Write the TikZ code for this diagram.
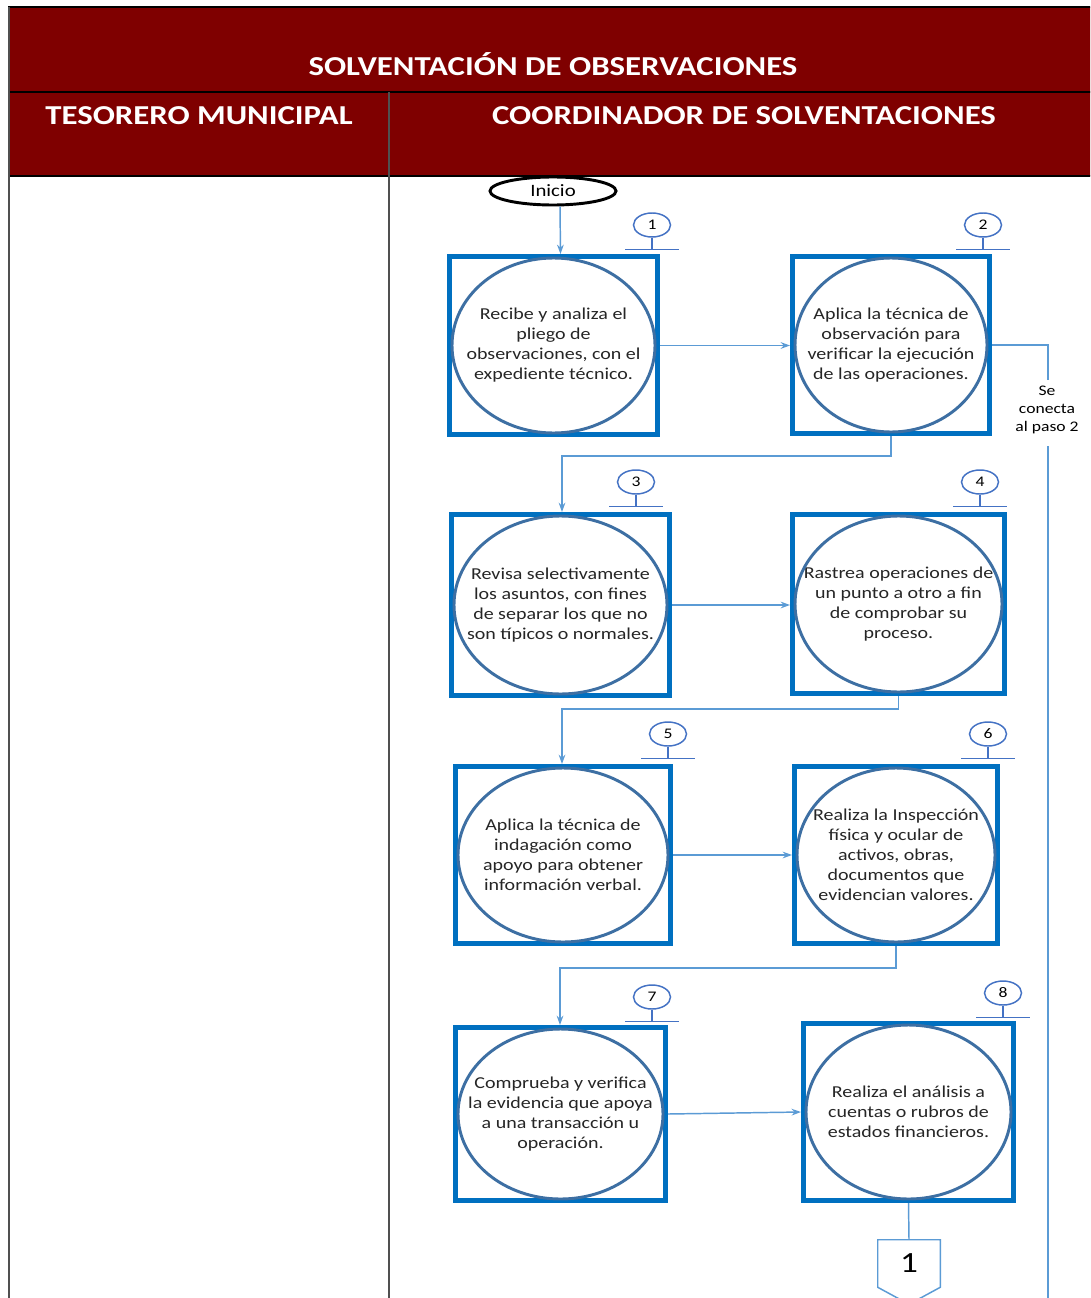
\documentclass[tikz,border=0pt]{standalone}
\usepackage{fontspec}
\setmainfont{Carlito}[FakeStretch=1.2]
\usetikzlibrary{shapes.geometric,arrows.meta,calc}

\definecolor{hdr}{HTML}{7F0000}
\definecolor{boxblue}{HTML}{0070C0}
\definecolor{ringblue}{HTML}{3D6FA3}
\definecolor{linkblue}{HTML}{5B9BD5}
\definecolor{tagblue}{HTML}{4472C4}
\definecolor{rule}{HTML}{505050}

% one process step: framed box with an inscribed ellipse
\newcommand\flowstep[6]{%
  \node[stepbox={#4}{#5}] (#1) at (#2,#3) {#6};
  \draw[ring] (#1.center) ellipse [x radius={(#4/2-5)*0.75pt}, y radius={(#5/2-4)*0.75pt}];
}
% numbered tag standing on a short bar
\newcommand\steptag[4]{%
  \node[tagring] (#1) at (#2,#3-24) {#4};
  \draw[tagline] (#1.south) -- ++(0,12);
  \draw[tagline] ($(#1.south)+(-27,12)$) -- ++(54,0);
}

\begin{document}
\begin{tikzpicture}[x=0.75pt,y=-0.75pt,
  stepbox/.style 2 args={draw=boxblue, line width=3.75pt,
    minimum width={(#1-5)*0.75pt}, minimum height={(#2-5)*0.75pt},
    inner sep=0pt, align=center, font=\fontsize{12.5}{15}\selectfont, text=black!85},
  ring/.style={draw=ringblue, line width=2.2pt},
  tagring/.style={ellipse, draw=tagblue, line width=1.1pt, fill=white,
    minimum width=37*0.75pt, minimum height=24*0.75pt, inner sep=0pt,
    font=\fontsize{11}{12}\selectfont},
  tagline/.style={draw=tagblue, line width=1.1pt},
  link/.style={draw=linkblue, line width=1.1pt, -{Stealth[length=7pt,width=5pt]}},
  plainlink/.style={draw=linkblue, line width=1.1pt},
  lanehead/.style={text=white, font=\bfseries\fontsize{20.5}{24}\selectfont},
  lanerule/.style={draw=rule, line width=1.5pt},
]
\useasboundingbox (0,0) rectangle (1090,1298);
\fill[white] (0,0) rectangle (1090,1298);

\begin{scope}
\clip (0,0) rectangle (1090,1298);
% header bands
\fill[hdr] (8,7) rectangle (1092,176);
\draw[black, line width=1.5pt] (8,7) -- (1092,7);
\draw[black, line width=1.5pt] (8,92) -- (1092,92);
\draw[black, line width=1.5pt] (8,176) -- (1092,176);
\node[lanehead] (title) at (553,64) {SOLVENTACIÓN DE OBSERVACIONES};
\node[lanehead] (laneA) at (199,116) {TESORERO MUNICIPAL};
\node[lanehead] (laneB) at (744,116) {COORDINADOR DE SOLVENTACIONES};
% lane borders
\draw[lanerule] (9,7) -- (9,1300);
\draw[lanerule] (389,92) -- (389,1300);

% start
\node[ellipse, draw=black, line width=2.2pt, minimum width=126*0.75pt, minimum height=28*0.75pt,
  inner sep=0pt, font=\fontsize{13}{15}\selectfont] (ini) at (553,191) {Inicio};

% steps
\flowstep{b1}{553.5}{345.5}{213}{183}{Recibe y analiza el\\pliego de\\observaciones, con el\\expediente técnico.}
\flowstep{b2}{891}{345}{202}{182}{Aplica la técnica de\\observación para\\verificar la ejecución\\de las operaciones.}
\flowstep{b3}{560.5}{605}{223}{186}{Revisa selectivamente\\los asuntos, con fines\\de separar los que no\\son típicos o normales.}
\flowstep{b4}{898.5}{604}{217}{184}{Rastrea operaciones de\\un punto a otro a fin\\de comprobar su\\proceso.}
\flowstep{b5}{563}{855}{220}{182}{Aplica la técnica de\\indagación como\\apoyo para obtener\\información verbal.}
\flowstep{b6}{896}{855}{208}{182}{Realiza la Inspección\\física y ocular de\\activos, obras,\\documentos que\\evidencian valores.}
\flowstep{b7}{560.5}{1114}{215}{178}{Comprueba y verifica\\la evidencia que apoya\\a una transacción u\\operación.}
\flowstep{b8}{908.5}{1112}{215}{182}{Realiza el análisis a\\cuentas o rubros de\\estados financieros.}

% step numbers
\steptag{t1}{652}{249}{1}
\steptag{t2}{983}{249}{2}
\steptag{t3}{636}{506}{3}
\steptag{t4}{980}{506}{4}
\steptag{t5}{668}{758}{5}
\steptag{t6}{988}{758}{6}
\steptag{t7}{652}{1021}{7}
\steptag{t8}{1003}{1017}{8}

% off-page connector
\node[minimum width=62*0.75pt, minimum height=47*0.75pt, inner sep=0pt,
  font=\fontsize{22}{24}\selectfont] (off) at (909,1263.5) {1};
\draw[draw=linkblue, line width=1.1pt] (off.north west) -- (off.north east) -- (off.south east)
  -- ($(off.south)+(0,17)$) -- (off.south west) -- cycle;

% note on the right edge
\node[align=center, inner sep=0pt, font=\fontsize{11}{13.5}\selectfont] (se) at (1047,410)
  {Se\\conecta\\al paso 2};
\coordinate (pageend) at (1048,1300);

% connectors
\draw[link] ($(ini.south)+(7,0)$) -- ($(b1.north)+(7,0)$);
\draw[link] (b1.east) -- (b1.east -| b2.west);
\draw[link] (b2.south) -- ++(0,20) -| ($(b3.north)+(1.5,0)$);
\draw[link] (b3.east) -- (b3.east -| b4.west);
\draw[link] (b4.south) -- ++(0,13) -| ($(b5.north)+(-1,0)$);
\draw[link] (b5.east) -- (b5.east -| b6.west);
\draw[link] (b6.south) -- ++(0,22) -| ($(b7.north)+(-0.5,0)$);
\draw[link] (b7.east) -- (b8.west);
\draw[plainlink] (b8.south) -- (off.north);
\draw[plainlink] (b2.east) -| ([yshift=4pt]se.north -| pageend);
\draw[plainlink] ([yshift=-9pt]se.south -| pageend) -- (pageend);
\end{scope}
\end{tikzpicture}
\end{document}
